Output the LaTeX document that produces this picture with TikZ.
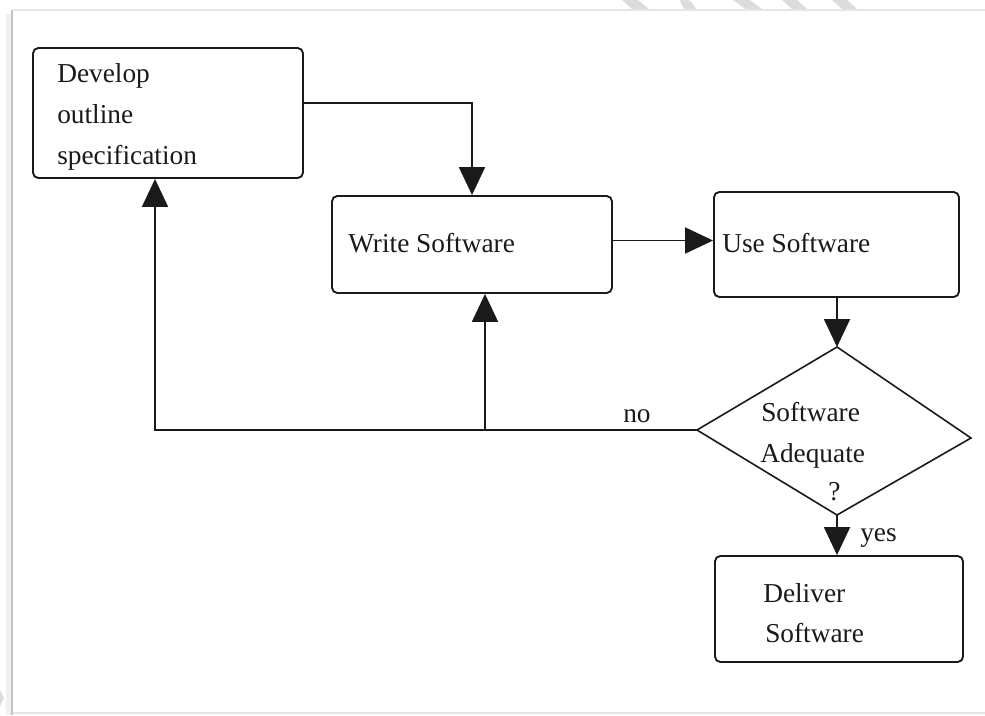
\documentclass[tikz,border=0pt]{standalone}
\usepackage{fontspec}
\setmainfont{Liberation Serif}
\usetikzlibrary{arrows.meta,calc}
\definecolor{ink}{HTML}{1A1A1A}
\definecolor{framegray}{HTML}{C4C4C4}
\definecolor{framelight}{HTML}{E6E6E6}
\definecolor{stripegray}{HTML}{DCDCDC}
\tikzset{
  box/.style={draw=ink, line width=1.4pt, rounded corners=4pt, inner sep=0pt},
  lbl/.style={anchor=base west, inner sep=0pt, text=ink, font=\fontsize{20.5}{24}\selectfont},
  arr/.style={draw=ink, line width=1.4pt, -{Triangle[length=21pt,width=19.5pt]}},
  conn/.style={draw=ink, line width=1.4pt},
}
\begin{document}
\begin{tikzpicture}[x=0.75pt,y=-0.75pt]
\useasboundingbox (0,0) rectangle (985,715);
\fill[white] (0,0) rectangle (985,715);

% page frame and watermark stripes
\fill[stripegray] (622,0) -- (638,0) -- (650,10) -- (633,10) -- cycle;
\fill[stripegray, rounded corners=2pt] (679,0) -- (690,0) -- (697,10) -- (685,10) -- cycle;
\fill[stripegray] (733,0) -- (750,0) -- (763,10) -- (747,10) -- cycle;
\fill[stripegray] (782,0) -- (797,0) -- (808,10) -- (793,10) -- cycle;
\fill[stripegray] (832,0) -- (847,0) -- (858,10) -- (843,10) -- cycle;
\fill[stripegray] (0,690) -- (4,698) -- (0,706) -- cycle;
\fill[framelight!60] (6,14) rectangle (11,715);
\draw[framelight, line width=1.5pt] (12,10) -- (985,10);
\draw[framelight, line width=1.5pt] (12,713) -- (985,713);
\draw[framegray, line width=2pt] (12,10) -- (12,715);

% boxes
\node[box, minimum width=202.5pt, minimum height=97.5pt] (dev) at (168,113) {};
\node[box, minimum width=210pt, minimum height=72.75pt] (write) at (472,244.5) {};
\node[box, minimum width=183.75pt, minimum height=78.75pt] (use) at (836.5,244.5) {};
\node[box, minimum width=186pt, minimum height=79.5pt] (del) at (839,609) {};

% decision diamond
\coordinate (dT) at (837,347);
\coordinate (dR) at (971,438);
\coordinate (dB) at (837,515);
\coordinate (dL) at (697,430);
\draw[draw=ink, line width=1.2pt, line join=miter] (dT) -- (dR) -- (dB) -- (dL) -- cycle;

% texts
\node[lbl] (t1) at (57,82) {Develop};
\node[lbl] (t2) at (57,123) {outline};
\node[lbl] (t3) at (57,164) {specification};
\node[lbl] (t4) at (348,252) {Write Software};
\node[lbl] (t5) at (722,252) {Use Software};
\node[lbl] (t6) at (761,421) {Software};
\node[lbl] (t7) at (760,462) {Adequate};
\node[lbl] (t8) at (828,500) {?};
\node[lbl] (t9) at (763,602) {Deliver};
\node[lbl] (t10) at (765,642) {Software};
\node[lbl] (no) at (623,422) {no};
\node[lbl] (yes) at (860,541) {yes};

% connectors
\draw[arr] ([yshift=7.5pt]dev.east) -| (write.north);
\coordinate (wr) at ([yshift=3pt]write.east);
\draw[arr] (wr) -- (wr -| use.west);
\draw[arr] (use.south -| dT) -- (dT);
\draw[arr] (dB) -- (dB |- del.north);
\coordinate (fbD) at ([xshift=-9.75pt]dev.south);
\coordinate (fbW) at ([xshift=9.75pt]write.south);
\draw[arr] (dL) -| (fbD);
\draw[arr] (dL -| fbW) -- (fbW);
\end{tikzpicture}
\end{document}
